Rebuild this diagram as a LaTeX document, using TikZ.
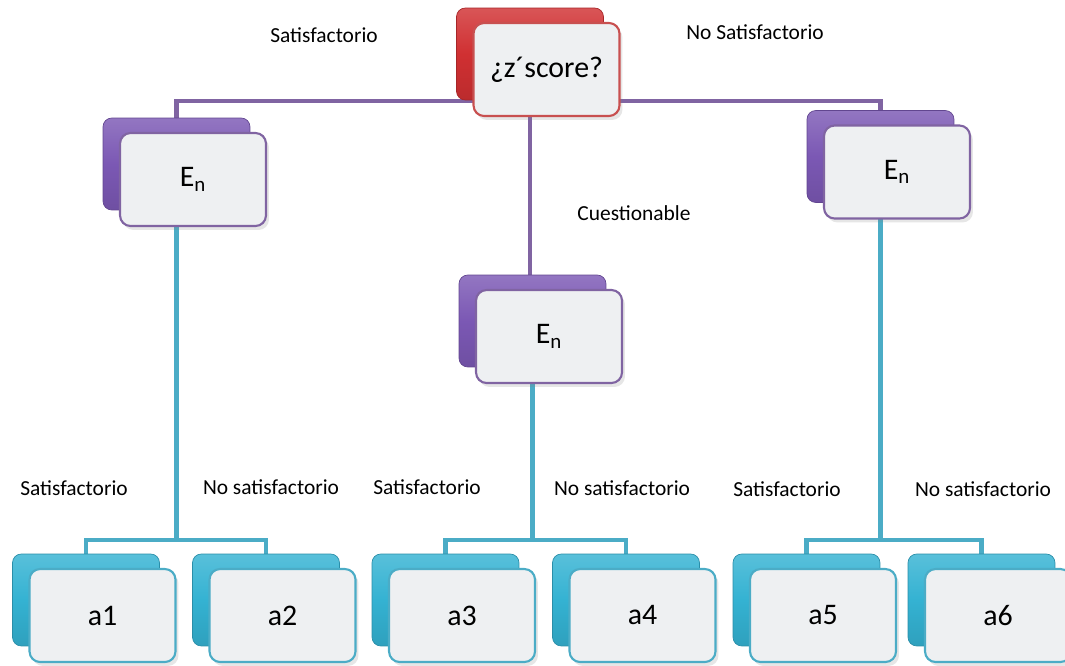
\documentclass[tikz,border=0pt]{standalone}
\usepackage{xcolor}
\usepackage{fontspec}
\setmainfont{Carlito}
\usepackage{tikz}
\usetikzlibrary{shadows,backgrounds}

\definecolor{boxred}{RGB}{208,48,50}
\definecolor{boxpurple}{RGB}{123,88,180}
\definecolor{boxteal}{RGB}{52,178,210}
\definecolor{edgered}{RGB}{200,80,80}
\definecolor{edgepurple}{RGB}{128,100,162}
\definecolor{edgeteal}{RGB}{75,172,198}
\definecolor{boxface}{RGB}{238,240,242}

\tikzset{
  backbox/.style={rounded corners=5pt, minimum width=2.94cm, minimum height=1.84cm,
    top color=#1!82!white, bottom color=#1!90!black, middle color=#1, draw=#1!80!black, line width=0.4pt},
  frontbox/.style={rounded corners=6pt, minimum width=2.92cm, minimum height=1.86cm,
    fill=boxface, draw=#1, line width=1.2pt, font=\fontsize{17}{20}\selectfont,
    drop shadow={opacity=0.2, shadow xshift=0.6mm, shadow yshift=-0.8mm}},
  branch/.style={line width=2.6pt, color=#1},
  lbl/.style={font=\fontsize{12.2}{14}\selectfont}
}

\begin{document}
\begin{tikzpicture}[x=0.02cm,y=-0.02cm]
		\useasboundingbox (0,0) rectangle (1065,666);

			\node[backbox=boxred] (q-back) at (530,54) {};
			\node[frontbox=edgered] (q) at ([shift={(16.5,15.5)}]q-back) {¿z´score?};

			\node[backbox=boxpurple] (eL-back) at (176.5,164) {};
			\node[frontbox=edgepurple] (eL) at ([shift={(16.5,15.5)}]eL-back) {E\textsubscript{n}};

			\node[backbox=boxpurple] (eM-back) at (532.5,321) {};
			\node[frontbox=edgepurple] (eM) at ([shift={(16.5,15.5)}]eM-back) {E\textsubscript{n}};

			\node[backbox=boxpurple] (eR-back) at (880.5,156.5) {};
			\node[frontbox=edgepurple] (eR) at ([shift={(16.5,15.5)}]eR-back) {E\textsubscript{n}};

			\node[backbox=boxteal] (a1-back) at (86,600) {};
			\node[frontbox=edgeteal] (a1) at ([shift={(16.5,15.5)}]a1-back) {a1};
			\node[backbox=boxteal] (a2-back) at (266,600) {};
			\node[frontbox=edgeteal] (a2) at ([shift={(16.5,15.5)}]a2-back) {a2};
			\node[backbox=boxteal] (a3-back) at (445.5,600) {};
			\node[frontbox=edgeteal] (a3) at ([shift={(16.5,15.5)}]a3-back) {a3};
			\node[backbox=boxteal] (a4-back) at (626,600) {};
			\node[frontbox=edgeteal] (a4) at ([shift={(16.5,15.5)}]a4-back) {a4};
			\node[backbox=boxteal] (a5-back) at (806.5,600) {};
			\node[frontbox=edgeteal] (a5) at ([shift={(16.5,15.5)}]a5-back) {a5};
			\node[backbox=boxteal] (a6-back) at (981.5,600) {};
			\node[frontbox=edgeteal] (a6) at ([shift={(16.5,15.5)}]a6-back) {a6};

			\begin{pgfonlayer}{background}
			\coordinate (qbus) at (530,101);
			\draw[branch=edgepurple] (eL-back.north) |- (qbus) -| (eR-back.north);
			\draw[branch=edgepurple] (q-back.south) -- (q-back.south |- eM-back.north);

			\coordinate (lbus) at (176.5,540);
			\coordinate (mbus) at (532.5,540);
			\coordinate (rbus) at (880.5,540);
			\draw[branch=edgeteal] (eL-back) -- (lbus);
			\draw[branch=edgeteal] (a1-back.north) |- (lbus) -| (a2-back.north);
			\draw[branch=edgeteal] (eM-back) -- (mbus);
			\draw[branch=edgeteal] (a3-back.north) |- (mbus) -| (a4-back.north);
			\draw[branch=edgeteal] (eR-back) -- (rbus);
			\draw[branch=edgeteal] (a5-back.north) |- (rbus) -| (a6-back.north);
			\end{pgfonlayer}

			\node[lbl] (s0) at (324,35) {Satisfactorio};
			\node[lbl] (ns0) at (755,32) {No Satisfactorio};
			\node[lbl] (cu) at (634,213) {Cuestionable};

			\node[lbl] (s1) at (74,488) {Satisfactorio};
			\node[lbl] (ns1) at (271,487) {No satisfactorio};
			\node[lbl] (s2) at (427,487) {Satisfactorio};
			\node[lbl] (ns2) at (622,488) {No satisfactorio};
			\node[lbl] (s3) at (787,489) {Satisfactorio};
			\node[lbl] (ns3) at (983,489) {No satisfactorio};
		\end{tikzpicture}
\end{document}
